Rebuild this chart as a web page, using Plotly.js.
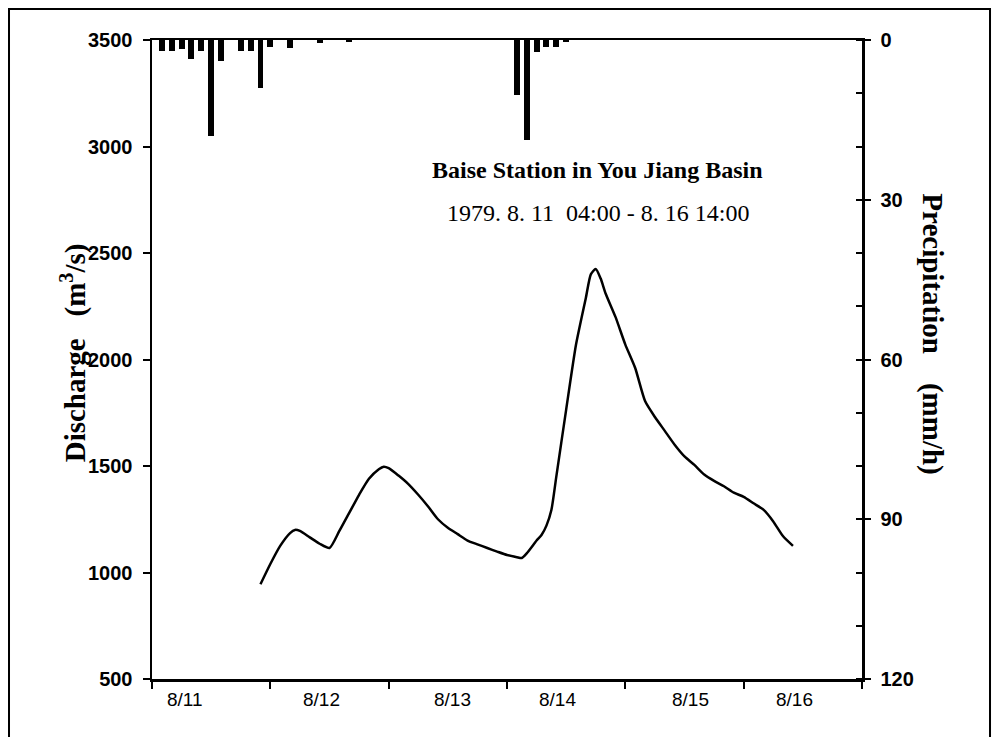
<!DOCTYPE html>
<html>
<head>
<meta charset="utf-8">
<script src="https://cdn.plot.ly/plotly-3.0.1.min.js"></script>
<style>html,body{margin:0;padding:0;background:#fff;}#chart{width:998px;height:737px;}</style>
</head>
<body>
<div id="chart"></div>
<script>
// Hours after 1979-08-11 04:00
const rainHours = [2, 4, 6, 8, 10, 12, 14, 18, 20, 22, 24, 28, 34, 40, 74, 76, 78, 80, 82, 84];
const rainMm    = [2.0, 2.0, 1.75, 3.6, 2.0, 18.1, 4.0, 2.0, 2.0, 9.0, 1.25, 1.5, 0.5, 0.4, 10.3, 18.7, 2.25, 1.3, 1.4, 0.4];

const flowHours = [22, 24, 26, 28, 29, 30, 32, 34, 36, 38, 40, 42, 44, 46, 47, 48, 50, 52, 54, 56, 58, 60, 62, 64, 66, 68, 70, 72, 74, 75, 76, 78, 79, 80, 81, 82, 84, 86, 88, 89, 90, 91, 92, 94, 96, 98, 100, 102, 104, 106, 108, 110, 112, 114, 116, 118, 120, 122, 124, 126, 128, 130];
const flowQ     = [945, 1040, 1125, 1185, 1200, 1195, 1165, 1135, 1115, 1195, 1280, 1365, 1440, 1485, 1497, 1490, 1455, 1415, 1365, 1310, 1250, 1210, 1180, 1150, 1132, 1115, 1098, 1082, 1072, 1068, 1090, 1150, 1176, 1220, 1293, 1450, 1765, 2070, 2290, 2400, 2425, 2380, 2310, 2200, 2070, 1960, 1805, 1730, 1665, 1600, 1545, 1505, 1460, 1430, 1405, 1375, 1355, 1325, 1295, 1240, 1170, 1125];

const dateLabels = ['8/11', '8/12', '8/13', '8/14', '8/15', '8/16'];
const dateLabelHours = [6.7, 34.4, 61.0, 82.3, 109.2, 130.3];

const precipTicks = [0, 30, 60, 90, 120];

const titleText = 'Baise Station in You Jiang Basin';
const subtitleText = '1979. 8. 11\u00a0\u00a004:00 - 8. 16 14:00';
const leftTitle = 'Discharge\u00a0\u00a0\u00a0(m<sup>3</sup>/s)';
const rightTitle = 'Precipitation\u00a0\u00a0\u00a0\u00a0(mm/h)';

const serif = 'Liberation Serif, Times New Roman, serif';
const sans = 'Liberation Sans, Arial, sans-serif';

const traces = [
  {
    type: 'bar', x: rainHours, y: rainMm, yaxis: 'y2', width: 1.2,
    marker: {color: '#000', line: {width: 0}}, hoverinfo: 'skip'
  },
  {
    type: 'scatter', mode: 'lines', x: flowHours, y: flowQ,
    line: {color: '#000', width: 2.5, shape: 'spline', smoothing: 0.6}
  },
  {type: 'scatter', mode: 'markers', x: [], y: [], yaxis: 'y3', hoverinfo: 'skip'}
];

const annotations = dateLabels.map((t, i) => ({
  text: t, x: dateLabelHours[i], xref: 'x', y: -0.013, yref: 'paper',
  yanchor: 'top', xanchor: 'center', showarrow: false,
  font: {family: sans, size: 19, color: '#000'}
}));
annotations.push(
  {text: '<b>' + titleText + '</b>', x: 0.628, y: 0.797, xref: 'paper', yref: 'paper',
   xanchor: 'center', yanchor: 'middle',
   showarrow: false, font: {family: serif, size: 24, color: '#000'}},
  {text: subtitleText, x: 0.628, y: 0.729, xref: 'paper', yref: 'paper',
   xanchor: 'center', yanchor: 'middle',
   showarrow: false, font: {family: serif, size: 24, color: '#000'}},
  {text: '<b>' + leftTitle + '</b>', x: -0.111, y: 0.51, xref: 'paper', yref: 'paper',
   xanchor: 'center', yanchor: 'middle',
   textangle: -90, showarrow: false, font: {family: serif, size: 29, color: '#000'}},
  {text: '<b>' + rightTitle + '</b>', x: 1.098, y: 0.54, xref: 'paper', yref: 'paper',
   xanchor: 'center', yanchor: 'middle',
   textangle: 90, showarrow: false, font: {family: serif, size: 29, color: '#000'}}
);

const layout = {
  width: 998, height: 737,
  margin: {l: 152, r: 136, t: 40, b: 58},
  paper_bgcolor: '#fff', plot_bgcolor: '#fff',
  showlegend: false,
  xaxis: {
    range: [0, 144], tick0: 0, dtick: 24, ticks: 'outside', ticklen: 7, tickwidth: 2,
    tickcolor: '#000', showticklabels: false, showline: true, linecolor: '#000',
    linewidth: 2.5, mirror: true, showgrid: false, zeroline: false
  },
  yaxis: {
    range: [500, 3500], tick0: 500, dtick: 500, ticks: 'outside', ticklen: 7, tickwidth: 2,
    tickcolor: '#000', showline: true, linecolor: '#000', linewidth: 2.5,
    showgrid: false, zeroline: false, ticklabelstandoff: 6,
    tickfont: {family: sans, size: 20, color: '#000', weight: 'bold'}
  },
  yaxis2: {
    overlaying: 'y', side: 'right', range: [120, 0],
    tickvals: precipTicks, ticks: 'outside', ticklen: 6, tickwidth: 2,
    tickcolor: '#000', showline: true, linecolor: '#000', linewidth: 2.5,
    showgrid: false, zeroline: false, ticklabelstandoff: 6,
    minor: {dtick: 10, tick0: 0, ticks: 'inside', ticklen: 6, tickwidth: 2, tickcolor: '#000', showgrid: false},
    tickfont: {family: sans, size: 20, color: '#000', weight: 'bold'}
  },
  yaxis3: {
    overlaying: 'y', side: 'right', range: [120, 0],
    tickvals: precipTicks, ticks: 'inside', ticklen: 6, tickwidth: 2, tickcolor: '#000',
    showticklabels: false, showline: false, showgrid: false, zeroline: false
  },
  bargap: 0,
  annotations: annotations,
  shapes: [
    {type: 'rect', xref: 'paper', yref: 'paper', x0: -0.2014, x1: 1.1803, y0: -0.12, y1: 1.0485,
     line: {color: '#000', width: 2}, fillcolor: 'rgba(0,0,0,0)', layer: 'below'}
  ]
};

Plotly.newPlot('chart', traces, layout, {displayModeBar: false, staticPlot: true});
</script>
</body>
</html>
